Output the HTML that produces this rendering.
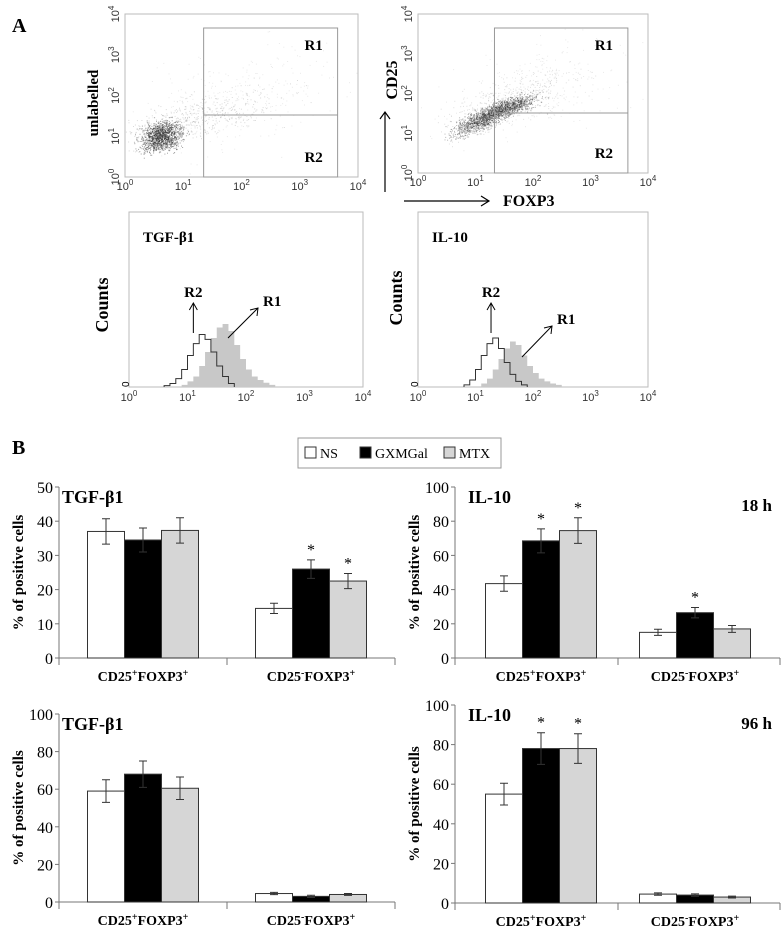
<!DOCTYPE html>
<html><head><meta charset="utf-8"><style>
html,body{margin:0;padding:0;background:#fff;}
svg{display:block;}
text{font-family:"Liberation Serif",serif;}
.bold{font-weight:bold;}
.sans{font-family:"Liberation Sans",sans-serif;}
</style></head><body>
<svg id="fig" width="784" height="929" viewBox="0 0 784 929" xmlns="http://www.w3.org/2000/svg"></svg>
<script>
// ---------- bar chart data ----------
const categories = ["CD25+FOXP3+", "CD25-FOXP3+"];
const seriesNames = ["NS", "GXMGal", "MTX"];
const tgf18Vals = [[37, 34.5, 37.3], [14.5, 26, 22.5]];
const tgf18Err = [[3.7, 3.5, 3.7], [1.5, 2.7, 2.2]];
const tgf18Star = [[0, 0, 0], [0, 1, 1]];
const il18Vals = [[43.5, 68.5, 74.5], [15, 26.5, 17]];
const il18Err = [[4.5, 7, 7.5], [1.8, 3, 2]];
const il18Star = [[0, 1, 1], [0, 1, 0]];
const tgf96Vals = [[59, 68, 60.5], [4.5, 3, 4]];
const tgf96Err = [[6, 7, 6], [0.6, 0.6, 0.5]];
const tgf96Star = [[0, 0, 0], [0, 0, 0]];
const il96Vals = [[55, 78, 78], [4.5, 4, 3]];
const il96Err = [[5.5, 8, 7.5], [0.6, 0.6, 0.5]];
const il96Star = [[0, 1, 1], [0, 0, 0]];
const ticks50 = [0, 10, 20, 30, 40, 50];
const ticks100 = [0, 20, 40, 60, 80, 100];

// ---------- histogram data (counts per log10 bin, step 0.1) ----------
const histTgfR2Start = 0.6;
const histTgfR2 = [2, 5, 12, 25, 45, 62, 75, 68, 50, 30, 15, 5];
const histTgfR1Start = 0.9;
const histTgfR1 = [3, 8, 15, 30, 50, 70, 85, 90, 80, 60, 40, 25, 15, 10, 6, 3];
const histIlR2Start = 0.8;
const histIlR2 = [3, 10, 25, 45, 62, 70, 55, 35, 18, 8, 3];
const histIlR1Start = 1.1;
const histIlR1 = [5, 12, 25, 40, 55, 65, 60, 45, 30, 20, 12, 8, 5, 3];
const logTicks = [0, 1, 2, 3, 4];

const NS = "http://www.w3.org/2000/svg";
const svg = document.getElementById('fig');
function el(tag, attrs, parent) {
  const e = document.createElementNS(NS, tag);
  for (const k in attrs) e.setAttribute(k, attrs[k]);
  (parent || svg).appendChild(e);
  return e;
}
function txt(x, y, s, attrs, parent) {
  const t = el('text', Object.assign({x: x, y: y}, attrs || {}), parent);
  t.textContent = s;
  return t;
}
function pow10(x, y, n, parent, rot) {
  const g = el('g', rot ? {transform: 'rotate(-90 ' + x + ' ' + y + ')'} : {}, parent);
  const t = el('text', {x: x, y: y, 'font-size': 11, 'text-anchor': 'middle', class: 'sans', fill: '#333'}, g);
  const a = document.createElementNS(NS, 'tspan'); a.textContent = '10'; t.appendChild(a);
  const b = document.createElementNS(NS, 'tspan'); b.setAttribute('dy', -5); b.setAttribute('font-size', 8); b.textContent = n; t.appendChild(b);
  return g;
}

let t = txt(12, 32, 'A', {'font-size': 20, class: 'bold'});
 
t = txt(12, 454, 'B', {'font-size': 20, class: 'bold'});
 

// seeded generator for the decorative flow-cytometry event cloud
let seed = 12345;
function rnd() { seed = (seed * 1103515245 + 12345) % 2147483648; return seed / 2147483648; }
function gauss() { let u = 0; for (let i = 0; i < 4; i++) u += rnd(); return (u - 2) / 0.58; }

function scatter(name, bx, by, bw, bh, clusters, gateX, gateTop, gateR, gateMidY) {
  const g = el('g', {});
  
  
  el('rect', {x: bx, y: by, width: bw, height: bh, fill: 'none', stroke: '#bbb', 'stroke-width': 1}, g);
  const sx = v => bx + v / 4 * bw, sy = v => by + bh - v / 4 * bh;
  const dots = el('g', {fill: '#333'}, g);
  clusters.forEach(c => {
    for (let i = 0; i < c.n; i++) {
      const a = gauss(), b = gauss();
      const lx = c.x + a * c.sx, ly = c.y + (a * c.r + b * (1 - Math.abs(c.r))) * c.sy;
      if (lx < 0 || lx > 4 || ly < 0 || ly > 4) continue;
      el('rect', {x: sx(lx).toFixed(1), y: sy(ly).toFixed(1), width: 1, height: 1, opacity: c.o}, dots);
    }
  });
  const gate = el('g', {fill: 'none', stroke: '#999', 'stroke-width': 1}, g);
  
  
  el('rect', {x: sx(gateX), y: gateTop, width: sx(gateR) - sx(gateX), height: by + bh - gateTop}, gate);
  el('line', {x1: sx(gateX), x2: sx(gateR), y1: gateMidY, y2: gateMidY}, gate);
  txt(sx(gateR) - 24, gateTop + 22, 'R1', {'font-size': 15, class: 'bold', 'text-anchor': 'middle'}, g);
  txt(sx(gateR) - 24, by + bh - 15, 'R2', {'font-size': 15, class: 'bold', 'text-anchor': 'middle'}, g);
  logTicks.forEach(v => {
    pow10(sx(v), by + bh + 13, v, g, false);
    pow10(bx - 6, sy(v), v, g, true);
  });
}
scatter('scatter-unlabelled', 125, 14, 233, 163,
  [{n: 1300, x: 0.62, y: 1.0, sx: 0.17, sy: 0.22, r: 0.2, o: 0.45},
   {n: 500, x: 1.1, y: 1.4, sx: 0.7, sy: 0.5, r: 0.5, o: 0.18},
   {n: 300, x: 2.0, y: 2.0, sx: 0.8, sy: 0.9, r: 0.3, o: 0.1}],
  1.35, 28, 3.65, 115);
scatter('scatter-cd25-foxp3', 418, 14, 230, 159,
  [{n: 900, x: 1.05, y: 1.3, sx: 0.22, sy: 0.25, r: 0.5, o: 0.35},
   {n: 1000, x: 1.55, y: 1.65, sx: 0.25, sy: 0.22, r: 0.5, o: 0.4},
   {n: 500, x: 1.6, y: 1.8, sx: 0.55, sy: 0.55, r: 0.5, o: 0.15},
   {n: 250, x: 2.1, y: 2.2, sx: 0.8, sy: 0.8, r: 0.3, o: 0.1}],
  1.33, 28, 3.65, 113);

t = txt(0, 0, 'unlabelled', {'font-size': 15, class: 'bold', 'text-anchor': 'middle', transform: 'translate(98 103) rotate(-90)'});
 
t = txt(0, 0, 'CD25', {'font-size': 16, class: 'bold', 'text-anchor': 'middle', transform: 'translate(397 80) rotate(-90)'});
 
t = txt(503, 206, 'FOXP3', {'font-size': 16, class: 'bold'});
 
el('line', {x1: 385, y1: 192, x2: 385, y2: 112, stroke: '#000', 'stroke-width': 1.2});
el('polyline', {points: '380,119 385,112 390,119', fill: 'none', stroke: '#000', 'stroke-width': 1.2});
el('line', {x1: 404, y1: 201, x2: 489, y2: 201, stroke: '#000', 'stroke-width': 1.2});
el('polyline', {points: '481,196 489,201 481,206', fill: 'none', stroke: '#000', 'stroke-width': 1.2});

function hist(name, bx, by, bw, bh, title, r2Start, r2, r1Start, r1, r2Lab, r1a) {
  const g = el('g', {});
  
  
  el('rect', {x: bx, y: by, width: bw, height: bh, fill: 'none', stroke: '#bbb'}, g);
  const sx = v => bx + v / 4 * bw, base = by + bh, k = 0.7;
  const step = 0.1;
  let p = [[sx(r1Start), base]];
  r1.forEach((c, i) => { const x0 = sx(r1Start + i * step), x1 = sx(r1Start + (i + 1) * step); p.push([x0, base - c * k]); p.push([x1, base - c * k]); });
  p.push([sx(r1Start + r1.length * step), base]);
  const fill = el('polygon', {points: p.map(q => q.join(',')).join(' '), fill: '#c8c8c8'}, g);
  
  
  p = [[sx(r2Start), base]];
  r2.forEach((c, i) => { const x0 = sx(r2Start + i * step), x1 = sx(r2Start + (i + 1) * step); p.push([x0, base - c * k]); p.push([x1, base - c * k]); });
  p.push([sx(r2Start + r2.length * step), base]);
  const line = el('polyline', {points: p.map(q => q.join(',')).join(' '), fill: 'none', stroke: '#333', 'stroke-width': 1}, g);
  
  
  txt(bx + 14, by + 30, title, {'font-size': 15, class: 'bold'}, g);
  logTicks.forEach(v => pow10(sx(v), base + 14, v, g, false));
  txt(bx - 4, base + 4, '0', {'font-size': 10, class: 'sans', transform: 'rotate(-90 ' + (bx - 4) + ' ' + base + ')'}, g);
  const ax = sx(r2Lab);
  el('line', {x1: ax, y1: base - 54, x2: ax, y2: base - 84, stroke: '#000'}, g);
  el('polyline', {points: (ax - 4) + ',' + (base - 77) + ' ' + ax + ',' + (base - 84) + ' ' + (ax + 4) + ',' + (base - 77), fill: 'none', stroke: '#000'}, g);
  txt(ax, base - 90, 'R2', {'font-size': 15, class: 'bold', 'text-anchor': 'middle'}, g);
  el('line', {x1: r1a[0], y1: r1a[1], x2: r1a[2], y2: r1a[3], stroke: '#000'}, g);
  el('polyline', {points: (r1a[2] - 8) + ',' + (r1a[3] + 2) + ' ' + r1a[2] + ',' + r1a[3] + ' ' + (r1a[2] - 1) + ',' + (r1a[3] + 8), fill: 'none', stroke: '#000'}, g);
  txt(r1a[2] + 5, r1a[3] - 2, 'R1', {'font-size': 15, class: 'bold'}, g);
}
hist('histogram-tgf-b1', 129, 212, 234, 175, 'TGF-β1', histTgfR2Start, histTgfR2, histTgfR1Start, histTgfR1, 1.1, [228, 338, 258, 308]);
hist('histogram-il-10', 418, 212, 230, 175, 'IL-10', histIlR2Start, histIlR2, histIlR1Start, histIlR1, 1.27, [522, 357, 552, 326]);
t = txt(0, 0, 'Counts', {'font-size': 18, class: 'bold', 'text-anchor': 'middle', transform: 'translate(108 305) rotate(-90)'});
 
t = txt(0, 0, 'Counts', {'font-size': 18, class: 'bold', 'text-anchor': 'middle', transform: 'translate(402 298) rotate(-90)'});
 

// legend
const lg = el('g', {});


el('rect', {x: 298, y: 438, width: 203, height: 30, fill: '#fff', stroke: '#999'}, lg);
const colors = ['#fff', '#000', '#d6d6d6'];
const legX = [305, 360, 444];
seriesNames.forEach((n, i) => {
  const e = el('g', {}, lg);
  
  
  el('rect', {x: legX[i], y: 447, width: 11, height: 11, fill: colors[i], stroke: '#333'}, e);
  txt(legX[i] + 15, 458, n, {'font-size': 14}, e);
});

function catLabel(parent, x, y, name) {
  const t = el('text', {x: x, y: y, 'font-size': 14, class: 'bold', 'text-anchor': 'middle'}, parent);
  const pos = name.indexOf('+') === 4;
  const parts = [['CD25', 0], [pos ? '+' : '-', -5], ['FOXP3', 5], ['+', -5]];
  parts.forEach(p => {
    const s = document.createElementNS(NS, 'tspan');
    if (p[1]) s.setAttribute('dy', p[1]);
    if (p[0] === '+' || p[0] === '-') s.setAttribute('font-size', 10);
    s.textContent = p[0];
    t.appendChild(s);
  });
}

function barChart(name, ax, y0, yTop, yMax, ticks, pad, W, axEnd, vals, errs, stars, title, time, ttlX) {
  const g = el('g', {});
  
  
  const sy = v => y0 - v / yMax * (y0 - yTop);
  el('line', {x1: ax, y1: sy(yMax), x2: ax, y2: y0, stroke: '#777'}, g);
  el('line', {x1: ax, y1: y0, x2: axEnd, y2: y0, stroke: '#777'}, g);
  ticks.forEach(v => {
    el('line', {x1: ax - 4, x2: ax, y1: sy(v), y2: sy(v), stroke: '#777'}, g);
    txt(ax - 6, sy(v) + 6, String(v), {'font-size': 16, 'text-anchor': 'end'}, g);
  });
  el('line', {x1: ax + pad + W, x2: ax + pad + W, y1: y0, y2: y0 + 7, stroke: '#777'}, g);
  el('line', {x1: axEnd, x2: axEnd, y1: y0, y2: y0 + 7, stroke: '#777'}, g);
  el('line', {x1: ax, x2: ax, y1: y0, y2: y0 + 7, stroke: '#777'}, g);
  const bw = 37;
  categories.forEach((c, ci) => {
    const cx = ax + pad + (ci + 0.5) * W;
    vals[ci].forEach((v, si) => {
      const x = cx - 1.5 * bw + si * bw;
      const r = el('rect', {x: x, y: sy(v), width: bw, height: y0 - sy(v), fill: colors[si], stroke: '#333', 'stroke-width': 1}, g);
      
      
      const xm = x + bw / 2, e = errs[ci][si];
      el('path', {d: 'M' + xm + ' ' + sy(v + e) + 'V' + sy(v - e) + 'M' + (xm - 4) + ' ' + sy(v + e) + 'h8M' + (xm - 4) + ' ' + sy(v - e) + 'h8', stroke: '#333', fill: 'none'}, g);
      if (stars[ci][si]) txt(xm, sy(v + e) - 5, '*', {'font-size': 16, 'text-anchor': 'middle'}, g);
    });
    catLabel(g, cx, y0 + 23, c);
  });
  txt(ttlX, sy(yMax) + 16, title, {'font-size': 18, class: 'bold'}, g);
  if (time) txt(axEnd - 8, sy(yMax) + 24, time, {'font-size': 17, class: 'bold', 'text-anchor': 'end'}, g);
  const yt = el('text', {x: 0, y: 0, 'font-size': 15, class: 'bold', 'text-anchor': 'middle', transform: 'translate(' + (ax - 36) + ' ' + ((y0 + sy(yMax)) / 2) + ') rotate(-90)'}, g);
  yt.textContent = '% of positive cells';
}
barChart('chart-tgf-18h', 59, 658, 487, 50, ticks50, 0, 168, 395, tgf18Vals, tgf18Err, tgf18Star, 'TGF-β1', '', 62);
barChart('chart-il10-18h', 455, 658, 487, 100, ticks100, 9, 154, 780, il18Vals, il18Err, il18Star, 'IL-10', '18 h', 468);
barChart('chart-tgf-96h', 59, 902, 714, 100, ticks100, 0, 168, 395, tgf96Vals, tgf96Err, tgf96Star, 'TGF-β1', '', 62);
barChart('chart-il10-96h', 455, 903, 705, 100, ticks100, 9, 154, 780, il96Vals, il96Err, il96Star, 'IL-10', '96 h', 468);
</script>
</body></html>
